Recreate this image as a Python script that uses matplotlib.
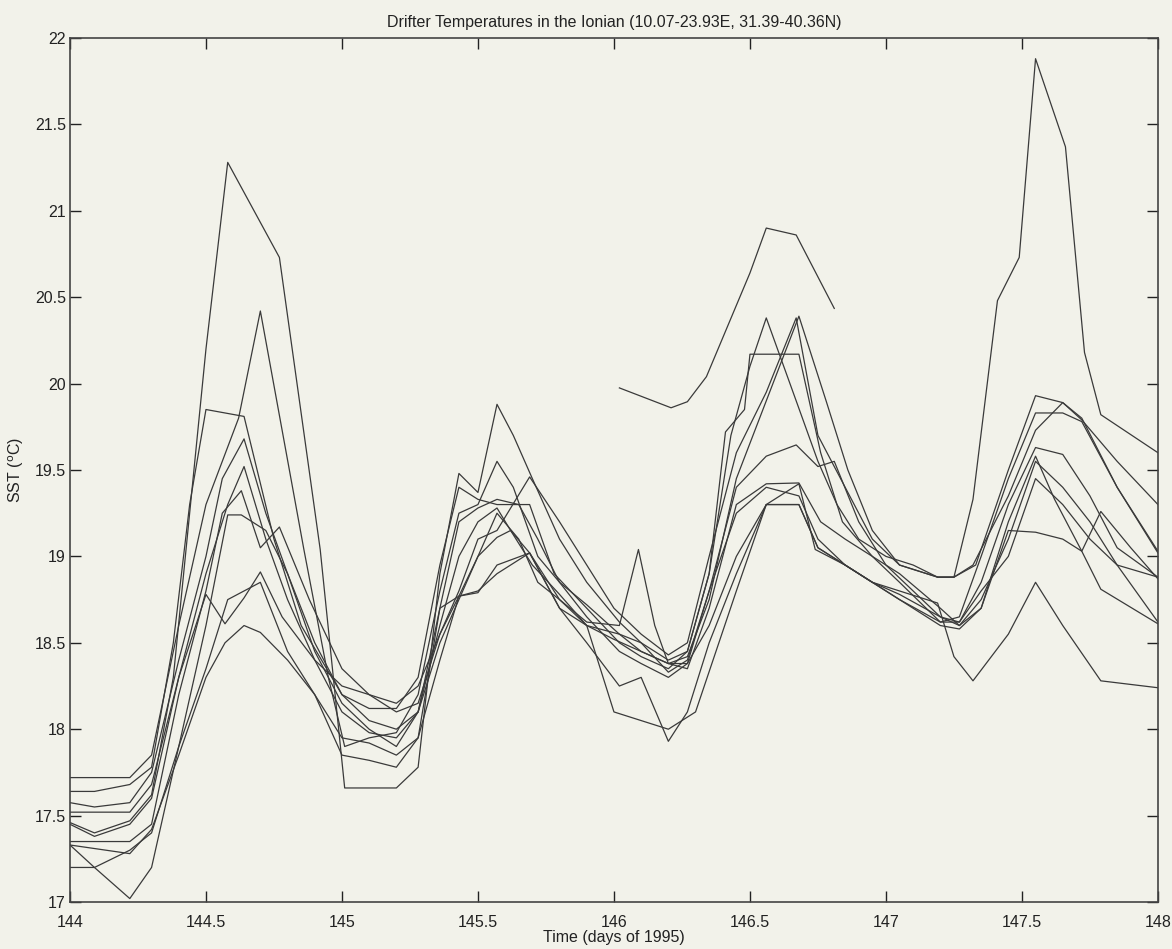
import matplotlib.pyplot as plt

# drifter tracks: (time in days of 1995, SST in deg C)
d1_t = [144.00, 144.09, 144.22, 144.30, 144.38, 144.50, 144.58, 144.77, 144.92, 145.01, 145.20, 145.28, 145.36, 145.43, 145.50, 145.57, 145.63, 145.70, 145.80, 145.90, 146.02, 146.10, 146.20, 146.27, 146.35, 146.43, 146.50, 146.56, 146.67, 146.75, 146.82, 146.90, 147.00, 147.10, 147.19, 147.25, 147.32, 147.41, 147.49, 147.55, 147.66, 147.73, 147.79, 148.00]
d1_v = [17.46, 17.40, 17.47, 17.62, 18.30, 20.20, 21.28, 20.73, 19.04, 17.66, 17.66, 17.78, 18.90, 19.48, 19.37, 19.88, 19.70, 19.45, 19.10, 18.85, 18.62, 18.50, 18.40, 18.45, 18.90, 19.70, 20.10, 20.38, 19.90, 19.55, 19.30, 19.10, 19.00, 18.95, 18.88, 18.88, 19.33, 20.48, 20.73, 21.88, 21.37, 20.18, 19.82, 19.60]

d2_t = [144.00, 144.22, 144.30, 144.40, 144.50, 144.62, 144.70, 144.86, 144.95, 145.01, 145.10, 145.20, 145.28, 145.36, 145.43, 145.50, 145.57, 145.63, 145.72, 145.80, 145.90, 146.02, 146.10, 146.20, 146.27, 146.35, 146.45, 146.56, 146.68, 146.78, 146.86, 146.95, 147.05, 147.19, 147.25, 147.33, 147.45, 147.55, 147.65, 147.72, 147.85, 148.00]
d2_v = [17.72, 17.72, 17.85, 18.60, 19.30, 19.80, 20.42, 19.04, 18.30, 17.90, 17.95, 17.98, 18.20, 18.80, 19.25, 19.30, 19.55, 19.40, 19.00, 18.85, 18.72, 18.55, 18.45, 18.38, 18.42, 18.75, 19.45, 19.90, 20.39, 19.90, 19.50, 19.15, 18.95, 18.88, 18.88, 18.95, 19.50, 19.93, 19.89, 19.79, 19.55, 19.30]

d3_t = [144.00, 144.09, 144.22, 144.30, 144.38, 144.44, 144.50, 144.64, 144.75, 144.85, 145.00, 145.10, 145.20, 145.28, 145.36, 145.43, 145.50, 145.57, 145.62, 145.69, 145.78, 145.90, 146.02, 146.10, 146.20, 146.27, 146.35, 146.41, 146.48, 146.50, 146.68, 146.76, 146.84, 146.95, 147.05, 147.20, 147.27, 147.35, 147.45, 147.55, 147.65, 147.72, 147.85, 148.00]
d3_v = [17.64, 17.64, 17.68, 17.78, 18.50, 19.30, 19.85, 19.81, 19.10, 18.60, 18.20, 18.12, 18.12, 18.30, 18.95, 19.40, 19.33, 19.30, 19.30, 19.30, 18.90, 18.70, 18.50, 18.42, 18.35, 18.45, 18.90, 19.72, 19.85, 20.17, 20.17, 19.60, 19.20, 19.00, 18.85, 18.62, 18.65, 19.00, 19.45, 19.83, 19.83, 19.78, 19.40, 19.02]

d4_t = [144.00, 144.09, 144.22, 144.30, 144.40, 144.50, 144.56, 144.64, 144.72, 144.80, 144.90, 145.00, 145.10, 145.20, 145.28, 145.36, 145.43, 145.50, 145.57, 145.65, 145.72, 145.80, 145.90, 146.02, 146.10, 146.20, 146.27, 146.35, 146.45, 146.56, 146.67, 146.75, 146.81, 146.90, 147.00, 147.10, 147.20, 147.27, 147.35, 147.45, 147.55, 147.65, 147.75, 147.85, 148.00]
d4_v = [17.575, 17.55, 17.575, 17.75, 18.40, 19.00, 19.45, 19.68, 19.25, 18.90, 18.45, 18.15, 18.00, 17.90, 18.10, 18.70, 19.20, 19.28, 19.33, 19.30, 19.10, 18.85, 18.65, 18.45, 18.38, 18.30, 18.38, 18.80, 19.40, 19.58, 19.645, 19.52, 19.55, 19.20, 18.95, 18.80, 18.65, 18.62, 18.85, 19.30, 19.63, 19.59, 19.35, 19.05, 18.88]

d5_t = [144.00, 144.22, 144.30, 144.40, 144.50, 144.58, 144.64, 144.72, 144.80, 144.90, 145.00, 145.10, 145.20, 145.28, 145.36, 145.43, 145.50, 145.57, 145.62, 145.70, 145.80, 145.90, 146.00, 146.10, 146.20, 146.27, 146.35, 146.45, 146.56, 146.68, 146.76, 146.85, 146.95, 147.05, 147.20, 147.27, 147.35, 147.45, 147.55, 147.62, 147.72, 147.79, 147.90, 148.00]
d5_v = [17.52, 17.52, 17.68, 18.30, 18.90, 19.30, 19.52, 19.10, 18.75, 18.40, 18.10, 17.98, 17.95, 18.10, 18.60, 19.00, 19.20, 19.28, 19.15, 18.95, 18.78, 18.60, 18.52, 18.45, 18.38, 18.35, 18.70, 19.30, 19.42, 19.425, 19.20, 19.10, 19.00, 18.90, 18.70, 18.60, 18.70, 19.20, 19.58, 19.33, 19.03, 19.26, 19.05, 18.87]

d6_t = [144.00, 144.22, 144.30, 144.40, 144.50, 144.56, 144.63, 144.70, 144.77, 144.88, 145.00, 145.10, 145.20, 145.28, 145.36, 145.43, 145.50, 145.57, 145.69, 145.80, 145.90, 146.00, 146.10, 146.20, 146.27, 146.35, 146.45, 146.56, 146.67, 146.75, 146.85, 146.95, 147.05, 147.19, 147.25, 147.32, 147.45, 147.55, 147.65, 147.72, 147.85, 148.00]
d6_v = [17.35, 17.35, 17.45, 18.20, 18.80, 19.25, 19.38, 19.05, 19.17, 18.75, 18.35, 18.20, 18.10, 18.15, 18.55, 18.80, 19.10, 19.15, 19.46, 19.20, 18.95, 18.70, 18.55, 18.43, 18.50, 19.00, 19.60, 19.95, 20.38, 19.70, 19.40, 19.10, 18.95, 18.88, 18.88, 18.95, 19.35, 19.73, 19.89, 19.80, 19.40, 19.03]

d7_t = [144.00, 144.09, 144.22, 144.30, 144.40, 144.50, 144.58, 144.63, 144.72, 144.80, 144.90, 145.00, 145.10, 145.20, 145.28, 145.36, 145.43, 145.50, 145.57, 145.65, 145.72, 145.80, 145.90, 146.02, 146.09, 146.15, 146.20, 146.27, 146.35, 146.45, 146.56, 146.68, 146.75, 146.85, 146.95, 147.05, 147.20, 147.27, 147.35, 147.45, 147.55, 147.65, 147.72, 147.79, 148.00]
d7_v = [17.33, 17.20, 17.02, 17.20, 17.90, 18.60, 19.24, 19.24, 19.15, 18.90, 18.50, 18.20, 18.05, 18.00, 18.10, 18.50, 18.75, 19.00, 19.25, 19.10, 18.85, 18.75, 18.62, 18.60, 19.04, 18.60, 18.38, 18.38, 18.60, 19.00, 19.30, 19.30, 19.05, 18.95, 18.85, 18.75, 18.60, 18.58, 18.70, 19.15, 19.14, 19.10, 19.03, 18.81, 18.61]

d8_t = [144.00, 144.09, 144.22, 144.30, 144.40, 144.50, 144.57, 144.64, 144.70, 144.78, 144.90, 145.00, 145.10, 145.20, 145.28, 145.36, 145.43, 145.50, 145.57, 145.69, 145.80, 145.90, 146.02, 146.10, 146.20, 146.27, 146.35, 146.45, 146.56, 146.68, 146.74, 146.85, 146.95, 147.05, 147.20, 147.27, 147.35, 147.45, 147.55, 147.65, 147.75, 147.85, 148.00]
d8_v = [17.45, 17.38, 17.45, 17.60, 18.30, 18.78, 18.61, 18.76, 18.91, 18.65, 18.40, 18.25, 18.20, 18.15, 18.25, 18.55, 18.77, 18.79, 18.95, 19.02, 18.70, 18.50, 18.25, 18.30, 17.93, 18.10, 18.50, 18.90, 19.30, 19.42, 19.04, 18.95, 18.85, 18.75, 18.62, 18.62, 18.80, 19.00, 19.45, 19.30, 19.10, 18.95, 18.88]

d9_t = [144.00, 144.09, 144.22, 144.30, 144.40, 144.50, 144.58, 144.70, 144.80, 144.90, 145.00, 145.10, 145.20, 145.28, 145.36, 145.43, 145.50, 145.57, 145.62, 145.69, 145.80, 145.90, 146.02, 146.10, 146.20, 146.27, 146.35, 146.45, 146.56, 146.68, 146.75, 146.85, 146.95, 147.05, 147.20, 147.27, 147.35, 147.45, 147.55, 147.65, 147.75, 147.85, 148.00]
d9_v = [17.20, 17.20, 17.30, 17.40, 17.90, 18.35, 18.75, 18.85, 18.45, 18.20, 17.95, 17.92, 17.85, 17.95, 18.40, 18.77, 19.00, 19.11, 19.15, 19.02, 18.75, 18.60, 18.55, 18.50, 18.33, 18.40, 18.80, 19.25, 19.40, 19.35, 19.10, 18.95, 18.85, 18.78, 18.65, 18.60, 18.75, 19.10, 19.55, 19.40, 19.20, 18.95, 18.62]

d10_t = [144.00, 144.22, 144.30, 144.40, 144.50, 144.57, 144.64, 144.70, 144.80, 144.90, 145.00, 145.10, 145.20, 145.28, 145.36, 145.43, 145.50, 145.57, 145.69, 145.80, 145.90, 146.00, 146.10, 146.20, 146.30, 146.45, 146.56, 146.68, 146.75, 146.85, 146.95, 147.05, 147.19, 147.25, 147.32, 147.45, 147.55, 147.65, 147.79, 148.00]
d10_v = [17.33, 17.28, 17.42, 17.85, 18.30, 18.50, 18.60, 18.56, 18.40, 18.20, 17.85, 17.82, 17.78, 17.95, 18.70, 18.77, 18.80, 18.90, 19.02, 18.70, 18.60, 18.10, 18.05, 18.00, 18.10, 18.80, 19.30, 19.30, 19.05, 18.95, 18.85, 18.80, 18.73, 18.42, 18.28, 18.55, 18.85, 18.60, 18.28, 18.24]

# the short warm track that only exists for part of the period
d11_t = [146.02, 146.21, 146.27, 146.34, 146.50, 146.56, 146.67, 146.81]
d11_v = [19.975, 19.86, 19.895, 20.04, 20.64, 20.90, 20.86, 20.435]

tracks = [(d1_t, d1_v), (d2_t, d2_v), (d3_t, d3_v), (d4_t, d4_v), (d5_t, d5_v),
          (d6_t, d6_v), (d7_t, d7_v), (d8_t, d8_v), (d9_t, d9_v), (d10_t, d10_v),
          (d11_t, d11_v)]

plt.rcParams['font.family'] = ['Liberation Sans', 'DejaVu Sans']

bg = '#f2f2ea'
fig = plt.figure(figsize=(11.72, 9.49), dpi=100, facecolor=bg)
ax = fig.add_axes([0.0597, 0.0495, 0.9283, 0.9105])
ax.set_facecolor(bg)

for t, v in tracks:
    ax.plot(t, v, color='#3a3a3a', linewidth=0.9)

ax.set_xlim(144, 148)
ax.set_ylim(17, 22)
ax.set_xticks([144, 144.5, 145, 145.5, 146, 146.5, 147, 147.5, 148])
ax.set_xticklabels(['144', '144.5', '145', '145.5', '146', '146.5', '147', '147.5', '148'])
ax.set_yticks([17, 17.5, 18, 18.5, 19, 19.5, 20, 20.5, 21, 21.5, 22])
ax.set_yticklabels(['17', '17.5', '18', '18.5', '19', '19.5', '20', '20.5', '21', '21.5', '22'])
ax.tick_params(direction='in', length=8, width=1, top=True, right=True,
               labelsize=11.5, colors='#222222')
ax.tick_params(axis='x', pad=9)
ax.tick_params(axis='y', pad=3)
for s in ax.spines.values():
    s.set_color('#444444')
    s.set_linewidth(1.2)

ax.set_title('Drifter Temperatures in the Ionian (10.07-23.93E, 31.39-40.36N)',
             fontsize=11.5, color='#222222', pad=8)
ax.set_xlabel('Time (days of 1995)', fontsize=11.5, color='#222222', labelpad=0)
ax.set_ylabel('SST ($^{\\rm o}$C)', fontsize=11.5, color='#222222', labelpad=6)

plt.savefig('out.png', dpi=100, facecolor=bg)
